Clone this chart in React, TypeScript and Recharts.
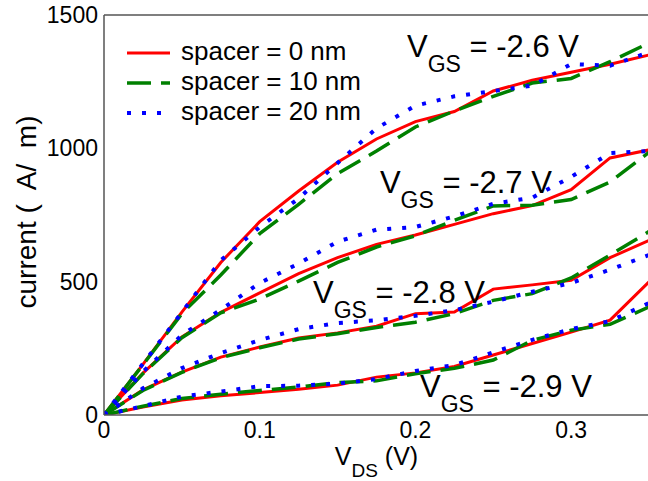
import React from 'react';
import { LineChart, Line, XAxis, YAxis, ReferenceDot, Legend } from 'recharts';

// ---------- data ----------
const VDS = [0, 0.025, 0.05, 0.075, 0.1, 0.125, 0.15, 0.175, 0.2, 0.225, 0.25, 0.275, 0.3, 0.325, 0.35];

const VGS_LABELS = ['-2.6', '-2.7', '-2.8', '-2.9'];
const SPACERS = ['0', '10', '20'];

// VGS = -2.6 V
const I_26_S0 = [0, 190, 386, 572, 725, 840, 948, 1035, 1100, 1138, 1215, 1255, 1285, 1315, 1350];
const I_26_S10 = [0, 188, 380, 525, 680, 790, 905, 990, 1080, 1140, 1195, 1245, 1262, 1325, 1395];
const I_26_S20 = [0, 192, 385, 580, 705, 812, 945, 1075, 1160, 1195, 1215, 1235, 1316, 1310, 1360];
// VGS = -2.7 V
const I_27_S0 = [0, 157, 293, 385, 458, 530, 590, 640, 675, 715, 755, 785, 845, 964, 994];
const I_27_S10 = [0, 155, 290, 383, 435, 502, 572, 630, 672, 730, 784, 787, 808, 874, 985];
const I_27_S20 = [0, 162, 300, 395, 495, 568, 650, 695, 705, 745, 792, 815, 893, 982, 990];
// VGS = -2.8 V
const I_28_S0 = [0, 94, 161, 217, 255, 289, 308, 333, 380, 386, 472, 488, 505, 590, 655];
const I_28_S10 = [0, 92, 160, 215, 252, 285, 305, 328, 348, 380, 430, 455, 514, 600, 688];
const I_28_S20 = [0, 100, 176, 232, 281, 322, 345, 355, 372, 393, 425, 462, 495, 545, 600];
// VGS = -2.9 V
const I_29_S0 = [0, 30, 56, 72, 84, 97, 112, 142, 158, 182, 225, 268, 311, 356, 499];
const I_29_S10 = [0, 33, 62, 78, 92, 105, 122, 128, 155, 175, 206, 280, 318, 340, 405];
const I_29_S20 = [0, 33, 69, 88, 108, 110, 118, 135, 165, 187, 235, 282, 322, 352, 420];

const X_MAJOR = [0, 0.1, 0.2, 0.3];
const X_MINOR = [0.05, 0.15, 0.25];
const Y_MAJOR = [0, 500, 1000, 1500];
const Y_MINOR = [250, 750, 1250];

// annotation anchors (data coordinates)
const ANN_X = [0.1946, 0.1772, 0.1342, 0.2029];
const ANN_Y = [1343, 832, 420, 67];

// ---------- build ----------
const GROUPS = [
  [I_26_S0, I_26_S10, I_26_S20],
  [I_27_S0, I_27_S10, I_27_S20],
  [I_28_S0, I_28_S10, I_28_S20],
  [I_29_S0, I_29_S10, I_29_S20],
];

const DATA = VDS.map((x, i) => {
  const row: Record<string, number> = { x };
  GROUPS.forEach((g, gi) => g.forEach((arr, si) => { row[`g${gi}s${si}`] = arr[i]; }));
  return row;
});

const FONT = '"Liberation Sans", Arial, Helvetica, sans-serif';
const STYLES = [
  { color: '#ff0000', dash: undefined as string | undefined, width: 3 },
  { color: '#008000', dash: '24 10', width: 3.5 },
  { color: '#0000ff', dash: '4 11', width: 4 },
];
const AXIS = { stroke: '#555', strokeWidth: 1.5 };
const TICK = { stroke: '#555', strokeWidth: 1.5 };

const LegendBox = () => (
  <svg width={240} height={100} style={{ display: 'block' }}>
    {SPACERS.map((s, i) => (
      <g key={s}>
        <line x1={5} x2={48} y1={23 + 30 * i} y2={23 + 30 * i} stroke={STYLES[i].color}
          strokeWidth={STYLES[i].width} strokeDasharray={STYLES[i].dash} />
        <text x={59} y={30 + 30 * i} fontSize={26} fontFamily={FONT} fill="#000">{`spacer = ${s} nm`}</text>
      </g>
    ))}
  </svg>
);

const vgsLabel = (v: string) => (props: any) => {
  const vb = props.viewBox || {};
  const x = vb.x ?? 0;
  const y = vb.y ?? 0;
  return (
    <text x={x} y={y} fontSize={31} fontFamily={FONT} fill="#000">
      <tspan>V</tspan>
      <tspan fontSize={23} dy={15}>GS</tspan>
      <tspan dy={-15}>{` = ${v} V`}</tspan>
    </text>
  );
};

const YLabel = (props: any) => {
  const vb = props.viewBox || { x: 0, y: 15, width: 104, height: 400 };
  const cx = vb.x + 36;
  const cy = vb.y + vb.height / 2 - 3;
  return (
    <text x={cx} y={cy} transform={`rotate(-90 ${cx} ${cy})`} textAnchor="middle" fontSize={28}
      fontFamily={FONT} fill="#000" style={{ whiteSpace: 'pre' }}>
      {'current (  A/  m)'}
    </text>
  );
};

const XLabel = (props: any) => {
  const vb = props.viewBox || { x: 104, y: 415, width: 544, height: 66 };
  const cx = vb.x + vb.width / 2;
  const cy = vb.y + 50;
  return (
    <text x={cx} y={cy} textAnchor="middle" fontSize={25} fontFamily={FONT} fill="#000">
      <tspan>V</tspan>
      <tspan fontSize={19} dy={12}>DS</tspan>
      <tspan dy={-12}> (V)</tspan>
    </text>
  );
};

const xTickAxis = (id: string, orientation: 'top' | 'bottom', ticks: number[], size: number, line: boolean) => (
  <XAxis key={id} xAxisId={id} orientation={orientation} mirror dataKey="x" type="number" domain={[0, 0.35]}
    allowDataOverflow ticks={ticks} interval={0} tick={false} tickSize={size} tickLine={TICK}
    axisLine={line ? AXIS : false} height={20} />
);
const yTickAxis = (id: string, orientation: 'left' | 'right', ticks: number[], size: number, line: boolean) => (
  <YAxis key={id} yAxisId={id} orientation={orientation} mirror type="number" domain={[0, 1500]}
    allowDataOverflow ticks={ticks} interval={0} tick={false} tickSize={size} tickLine={TICK}
    axisLine={line ? AXIS : false} width={20} />
);

export default function App() {
  return (
    <div style={{ position: 'absolute', left: 0, top: 0, width: 648, height: 481, background: '#fff' }}>
      <LineChart width={648} height={481} data={DATA} margin={{ top: 15, right: -1, left: 0, bottom: 0 }}
        style={{ fontFamily: FONT }}>
        <XAxis xAxisId="x" dataKey="x" type="number" domain={[0, 0.35]} allowDataOverflow ticks={X_MAJOR}
          interval={0} height={66} tickSize={0} tickMargin={7} tickLine={false} axisLine={AXIS}
          tick={{ fontSize: 23, fill: '#000', fontFamily: FONT }} tickFormatter={(v: number) => String(v)}
          label={XLabel} />
        <YAxis yAxisId="y" type="number" domain={[0, 1500]} allowDataOverflow ticks={Y_MAJOR} interval={0}
          width={104} tickSize={0} tickMargin={6} tickLine={false} axisLine={AXIS}
          tick={{ fontSize: 23, fill: '#000', fontFamily: FONT }} label={YLabel} />
        {xTickAxis('bMaj', 'bottom', X_MAJOR, 10, false)}
        {xTickAxis('bMin', 'bottom', X_MINOR, 6, false)}
        {xTickAxis('tMaj', 'top', X_MAJOR, 10, true)}
        {xTickAxis('tMin', 'top', X_MINOR, 6, false)}
        {yTickAxis('lMaj', 'left', Y_MAJOR, 11, false)}
        {yTickAxis('lMin', 'left', Y_MINOR, 6, false)}
        {yTickAxis('rMaj', 'right', Y_MAJOR, 11, true)}
        {yTickAxis('rMin', 'right', Y_MINOR, 6, false)}

        {STYLES.map((st, si) =>
          GROUPS.map((_, gi) => (
            <Line key={`g${gi}s${si}`} xAxisId="x" yAxisId="y" type="linear" dataKey={`g${gi}s${si}`}
              stroke={st.color} strokeWidth={st.width} strokeDasharray={st.dash} dot={false}
              activeDot={false} isAnimationActive={false} legendType="none" />
          ))
        )}

        {VGS_LABELS.map((v, i) => (
          <ReferenceDot key={v} xAxisId="x" yAxisId="y" x={ANN_X[i]} y={ANN_Y[i]} r={0}
            fill="none" stroke="none" label={vgsLabel(v)} />
        ))}

        <Legend content={<LegendBox />} layout="vertical" align="center" verticalAlign="middle"
          wrapperStyle={{ position: 'absolute', left: 122, top: 30, width: 240, height: 100 }} />
      </LineChart>
    </div>
  );
}
